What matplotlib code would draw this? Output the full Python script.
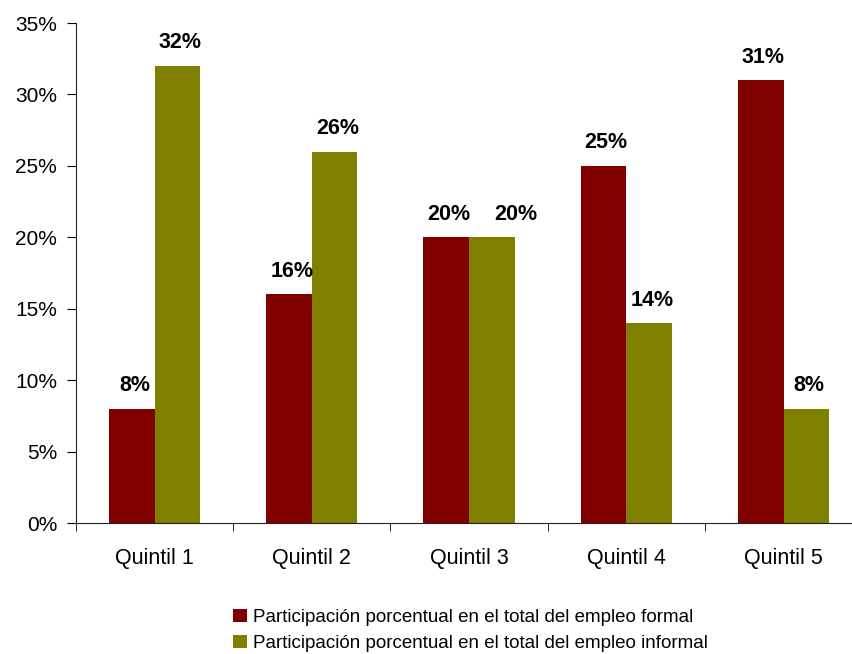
import numpy as np
import matplotlib
matplotlib.use('Agg')
import matplotlib.pyplot as plt
from matplotlib.ticker import FuncFormatter, FixedLocator

plt.rcParams['font.family'] = ['Liberation Sans', 'DejaVu Sans']

categorias = ['Quintil 1', 'Quintil 2', 'Quintil 3', 'Quintil 4', 'Quintil 5']
formal = [8, 16, 20, 25, 31]
informal = [32, 26, 20, 14, 8]
series_nombres = ['Participación porcentual en el total del empleo formal',
                  'Participación porcentual en el total del empleo informal']
colores = ['#800000', '#808000']

fig = plt.figure(figsize=(8.52, 6.54), dpi=100)
# the category axis runs a little past the right edge of the figure
ax = fig.add_axes([0.0892, 0.2003, 0.9227, 0.7645])

x = np.arange(len(categorias))
w = 0.29
b1 = ax.bar(x - w / 2, formal, w, color=colores[0], label=series_nombres[0])
b2 = ax.bar(x + w / 2, informal, w, color=colores[1], label=series_nombres[1])

for barras, vals, otros in ((b1, formal, None), (b2, informal, formal)):
    for i, (r, v) in enumerate(zip(barras, vals)):
        dx = 2
        # push the label right when it sits level with its neighbour
        if otros is not None and otros[i] == v:
            dx = 17
        ax.annotate(f'{v}%', (r.get_x() + r.get_width() / 2, v),
                    xytext=(dx, 9), textcoords='offset points',
                    ha='center', va='bottom', fontsize=15.5, fontweight='bold')

ax.set_xlim(-0.5, len(categorias) - 0.5)
ax.set_ylim(0, 35)
ax.set_yticks(np.arange(0, 36, 5))
ax.yaxis.set_major_formatter(FuncFormatter(lambda v, p: f'{v:.0f}%'))
ax.tick_params(axis='y', labelsize=15, length=6.5, direction='out', pad=7)

ax.set_xticks(x)
ax.set_xticklabels(categorias, fontsize=15.5)
ax.tick_params(axis='x', which='major', length=0, pad=18)
ax.xaxis.set_minor_locator(FixedLocator(np.arange(-0.5, len(categorias), 1.0)))
ax.tick_params(axis='x', which='minor', length=6, direction='out')

for s in ('top', 'right'):
    ax.spines[s].set_visible(False)
ax.spines['left'].set_color('#222222')
ax.spines['bottom'].set_color('#222222')

fig.legend(loc='upper left', bbox_to_anchor=(0.274, 0.069), frameon=False,
           fontsize=13.5, handlelength=0.7, handleheight=0.7, handletextpad=0.35,
           labelspacing=0.5, borderaxespad=0, borderpad=0)

fig.savefig('out.png', dpi=100)
